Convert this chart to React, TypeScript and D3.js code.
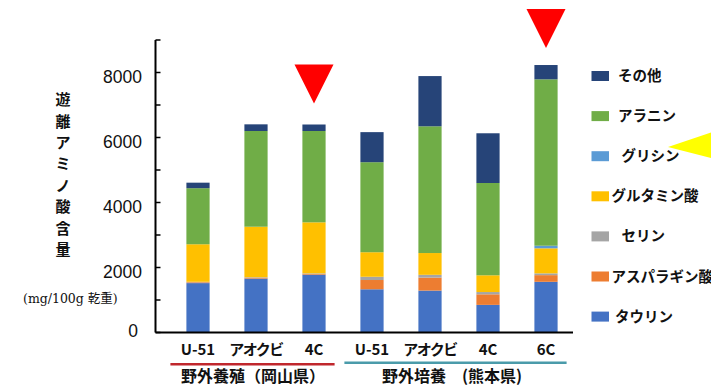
import React from "react";
import * as d3 from "d3";

const categories = ["U-51", "アオクビ", "4C", "U-51 ", "アオクビ ", "4C ", "6C"];
const seriesNames = ["タウリン", "アスパラギン酸", "セリン", "グルタミン酸", "グリシン", "アラニン", "その他"];
const seriesColors = ["#4472C4", "#ED7D31", "#A5A5A5", "#FFC000", "#5B9BD5", "#70AD47", "#264478"];
const taurine = [1520, 1660, 1780, 1330, 1290, 850, 1560];
const asparagine = [25, 25, 25, 285, 400, 325, 205];
const serine = [15, 15, 15, 100, 85, 70, 55];
const glutamate = [1155, 1555, 1570, 755, 670, 515, 770];
const glycine = [0, 0, 0, 0, 0, 0, 80];
const alanine = [1725, 2945, 2810, 2770, 3900, 2840, 5120];
const others = [170, 205, 200, 925, 1545, 1530, 440];
const yTicks = [0, 2000, 4000, 6000, 8000];
const groups = [
  { label: "野外養殖（岡山県）", from: 0, to: 2, color: "#C0272D" },
  { label: "野外培養　(熊本県)", from: 3, to: 6, color: "#4A9BAA" },
];
const markedBars = [2, 6];
const yTitle = "遊離アミノ酸含量";
const unitLabel = "(mg/100g 乾重)";

const seriesValues = [taurine, asparagine, serine, glutamate, glycine, alanine, others];

export default function App() {
  const W = 711, H = 387;
  const x = d3.scaleBand<string>().domain(categories).range([169, 575]).paddingInner(0.6).paddingOuter(0.3);
  const y = d3.scaleLinear().domain([0, 9000]).range([332.5, 40]);

  const rows = categories.map((c, i) => {
    const r: any = { cat: c };
    seriesNames.forEach((s, k) => (r[s] = seriesValues[k][i]));
    return r;
  });
  const stacked = d3.stack<any>().keys(seriesNames)(rows);
  const totals = categories.map((_, i) => seriesValues.reduce((a, s) => a + s[i], 0));

  const minor = d3.range(0, 9001, 1000);
  const jp = "'Noto Sans CJK JP', 'Liberation Sans', sans-serif";
  const axisX = 155.5;

  return (
    <svg width={W} height={H} style={{ position: "absolute", left: 0, top: 0, background: "#fff" }}>
      {/* bars */}
      {stacked.map((layer, k) => (
        <g key={k} fill={seriesColors[k]}>
          {layer.map((d, i) =>
            d[1] - d[0] > 0 ? (
              <rect key={i} x={x(categories[i])!} width={x.bandwidth()} y={y(d[1])} height={y(d[0]) - y(d[1])} />
            ) : null
          )}
        </g>
      ))}

      {/* y axis */}
      <line x1={axisX} x2={axisX} y1={y(9000)} y2={y(0)} stroke="#000" strokeWidth={2} />
      {minor.map((v) => (
        <line key={v} x1={axisX} x2={axisX + 5} y1={y(v)} y2={y(v)} stroke="#000" strokeWidth={1.5} />
      ))}
      <line x1={axisX} x2={573} y1={y(0)} y2={y(0)} stroke="#000" strokeWidth={2} />
      {yTicks.map((v) => (
        <text key={v} x={v === 0 ? 138 : 142} y={y(v) + (v === 0 ? -2 : 4)} dy="0.35em" textAnchor="end" fontFamily="'Liberation Sans', Arial, sans-serif" fontSize={17.5} fill="#111">
          {v}
        </text>
      ))}

      {/* y title */}
      {Array.from(yTitle).map((ch, i) => (
        <text key={i} x={63} y={100 + i * 21.4} dy="0.35em" textAnchor="middle" fontFamily={jp} fontWeight="bold" fontSize={15} fill="#111">
          {ch}
        </text>
      ))}
      <text x={23} y={299} dy="0.35em" fontFamily="'DejaVu Serif', 'Noto Sans CJK JP', serif" fontSize={12.5} fill="#111">
        {unitLabel}
      </text>

      {/* x labels */}
      {categories.map((c, i) => (
        <text key={i} x={x(c)! + x.bandwidth() / 2} y={350} dy="0.35em" textAnchor="middle" fontFamily={jp} fontWeight="bold" fontSize={15} letterSpacing={c.trim() === "アオクビ" ? -1.5 : 0} fill="#111">
          {c.trim()}
        </text>
      ))}

      {/* group lines and labels */}
      {groups.map((g, gi) => {
        const x0 = x(categories[g.from])! - 16;
        const x1 = x(categories[g.to])! + x.bandwidth() + 9;
        return (
          <g key={gi}>
            <line x1={x0} x2={x1} y1={gi === 0 ? 364.3 : 362.7} y2={gi === 0 ? 364.3 : 362.7} stroke={g.color} strokeWidth={2.5} />
            <text x={gi === 0 ? 253 : 452} y={376} dy="0.35em" textAnchor="middle" fontFamily={jp} fontWeight="bold" fontSize={16} fill="#111">
              {g.label}
            </text>
          </g>
        );
      })}

      {/* red markers */}
      {markedBars.map((b, i) => {
        const cx = x(categories[b])! + x.bandwidth() / 2;
        const tip = y(totals[b]) - (i === 0 ? 21 : 17);
        const h = 39, w = 39;
        return <path key={b} d={`M${cx - w / 2},${tip - h}L${cx + w / 2},${tip - h}L${cx},${tip}Z`} fill="#FF0000" />;
      })}

      {/* yellow pointer */}
      <path d="M668,147L711,132.5L711,158Z" fill="#FFFF00" />

      {/* legend */}
      {seriesNames
        .map((s, k) => ({ s, k }))
        .reverse()
        .map(({ s, k }, i) => {
          const cy = 76 + i * 40.1;
          const wide = s === "グルタミン酸" || s === "アスパラギン酸";
          const tx = wide ? 611.5 : s === "グリシン" || s === "セリン" ? 621.5 : s === "タウリン" ? 615 : 618;
          return (
            <g key={s}>
              <rect x={591.5} y={cy - 5} width={17.5} height={10} fill={seriesColors[k]} />
              <text x={tx} y={cy} dy="0.35em" fontFamily={jp} fontWeight="bold" fontSize={14.5} fill="#111">
                {s}
              </text>
            </g>
          );
        })}
    </svg>
  );
}
